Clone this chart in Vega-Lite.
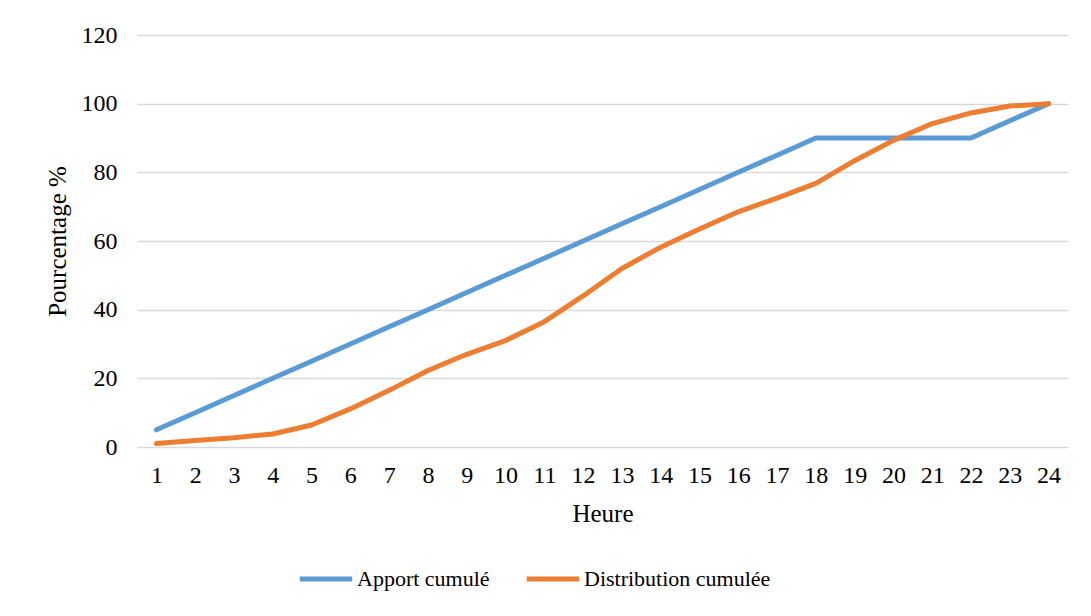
{
  "$schema": "https://vega.github.io/schema/vega-lite/v6.json",
  "autosize": "none",
  "width": 931,
  "height": 412,
  "padding": {"left": 137, "top": 35, "right": 23, "bottom": 169},
  "background": "white",
  "data": {
    "values": [
      {"hour": 1, "series": "Apport cumulé", "value": 5},
      {"hour": 2, "series": "Apport cumulé", "value": 10},
      {"hour": 3, "series": "Apport cumulé", "value": 15},
      {"hour": 4, "series": "Apport cumulé", "value": 20},
      {"hour": 5, "series": "Apport cumulé", "value": 25},
      {"hour": 6, "series": "Apport cumulé", "value": 30},
      {"hour": 7, "series": "Apport cumulé", "value": 35},
      {"hour": 8, "series": "Apport cumulé", "value": 40},
      {"hour": 9, "series": "Apport cumulé", "value": 45},
      {"hour": 10, "series": "Apport cumulé", "value": 50},
      {"hour": 11, "series": "Apport cumulé", "value": 55},
      {"hour": 12, "series": "Apport cumulé", "value": 60},
      {"hour": 13, "series": "Apport cumulé", "value": 65},
      {"hour": 14, "series": "Apport cumulé", "value": 70},
      {"hour": 15, "series": "Apport cumulé", "value": 75},
      {"hour": 16, "series": "Apport cumulé", "value": 80},
      {"hour": 17, "series": "Apport cumulé", "value": 85},
      {"hour": 18, "series": "Apport cumulé", "value": 90},
      {"hour": 19, "series": "Apport cumulé", "value": 90},
      {"hour": 20, "series": "Apport cumulé", "value": 90},
      {"hour": 21, "series": "Apport cumulé", "value": 90},
      {"hour": 22, "series": "Apport cumulé", "value": 90},
      {"hour": 23, "series": "Apport cumulé", "value": 95},
      {"hour": 24, "series": "Apport cumulé", "value": 100},
      {"hour": 1, "series": "Distribution cumulée", "value": 1},
      {"hour": 2, "series": "Distribution cumulée", "value": 1.9},
      {"hour": 3, "series": "Distribution cumulée", "value": 2.7},
      {"hour": 4, "series": "Distribution cumulée", "value": 3.8},
      {"hour": 5, "series": "Distribution cumulée", "value": 6.4},
      {"hour": 6, "series": "Distribution cumulée", "value": 11.1},
      {"hour": 7, "series": "Distribution cumulée", "value": 16.5},
      {"hour": 8, "series": "Distribution cumulée", "value": 22.3},
      {"hour": 9, "series": "Distribution cumulée", "value": 27},
      {"hour": 10, "series": "Distribution cumulée", "value": 31},
      {"hour": 11, "series": "Distribution cumulée", "value": 36.5},
      {"hour": 12, "series": "Distribution cumulée", "value": 44},
      {"hour": 13, "series": "Distribution cumulée", "value": 52},
      {"hour": 14, "series": "Distribution cumulée", "value": 58.2},
      {"hour": 15, "series": "Distribution cumulée", "value": 63.5},
      {"hour": 16, "series": "Distribution cumulée", "value": 68.5},
      {"hour": 17, "series": "Distribution cumulée", "value": 72.5},
      {"hour": 18, "series": "Distribution cumulée", "value": 76.8},
      {"hour": 19, "series": "Distribution cumulée", "value": 83.4},
      {"hour": 20, "series": "Distribution cumulée", "value": 89.3},
      {"hour": 21, "series": "Distribution cumulée", "value": 94.2},
      {"hour": 22, "series": "Distribution cumulée", "value": 97.3},
      {"hour": 23, "series": "Distribution cumulée", "value": 99.3},
      {"hour": 24, "series": "Distribution cumulée", "value": 100}
    ]
  },
  "mark": {"type": "line", "strokeWidth": 5, "strokeCap": "round", "strokeJoin": "round"},
  "encoding": {
    "x": {
      "field": "hour",
      "type": "ordinal",
      "scale": {"type": "point", "padding": 0.5},
      "axis": {
        "title": "Heure",
        "labelAngle": 0,
        "ticks": false,
        "domain": false,
        "labelPadding": 16,
        "titlePadding": 14,
        "labelFont": "Liberation Serif",
        "titleFont": "Liberation Serif",
        "labelFontSize": 24,
        "titleFontSize": 25,
        "titleFontWeight": "normal",
        "labelColor": "#000000",
        "titleColor": "#000000"
      }
    },
    "y": {
      "field": "value",
      "type": "quantitative",
      "scale": {"domain": [0, 120], "nice": false},
      "axis": {
        "title": "Pourcentage %",
        "values": [0, 20, 40, 60, 80, 100, 120],
        "ticks": false,
        "domain": false,
        "grid": true,
        "gridColor": "#D9D9D9",
        "gridWidth": 1.5,
        "labelPadding": 20,
        "titlePadding": 11,
        "labelFont": "Liberation Serif",
        "titleFont": "Liberation Serif",
        "labelFontSize": 24,
        "titleFontSize": 25,
        "titleFontWeight": "normal",
        "labelColor": "#000000",
        "titleColor": "#000000"
      }
    },
    "color": {
      "field": "series",
      "type": "nominal",
      "scale": {"domain": ["Apport cumulé", "Distribution cumulée"], "range": ["#5B9BD5", "#ED7D31"]},
      "legend": {
        "title": null,
        "orient": "none",
        "direction": "horizontal",
        "legendX": 160,
        "legendY": 515,
        "symbolType": "stroke",
        "symbolSize": 2750,
        "symbolStrokeWidth": 5,
        "labelOffset": 2,
        "columnPadding": 26,
        "labelFont": "Liberation Serif",
        "labelFontSize": 22,
        "labelColor": "#000000",
        "labelLimit": 400
      }
    }
  },
  "config": {
    "font": "Liberation Serif",
    "view": {"stroke": null},
    "style": {
      "guide-title": {"font": "Liberation Serif"},
      "guide-label": {"font": "Liberation Serif"}
    }
  }
}
